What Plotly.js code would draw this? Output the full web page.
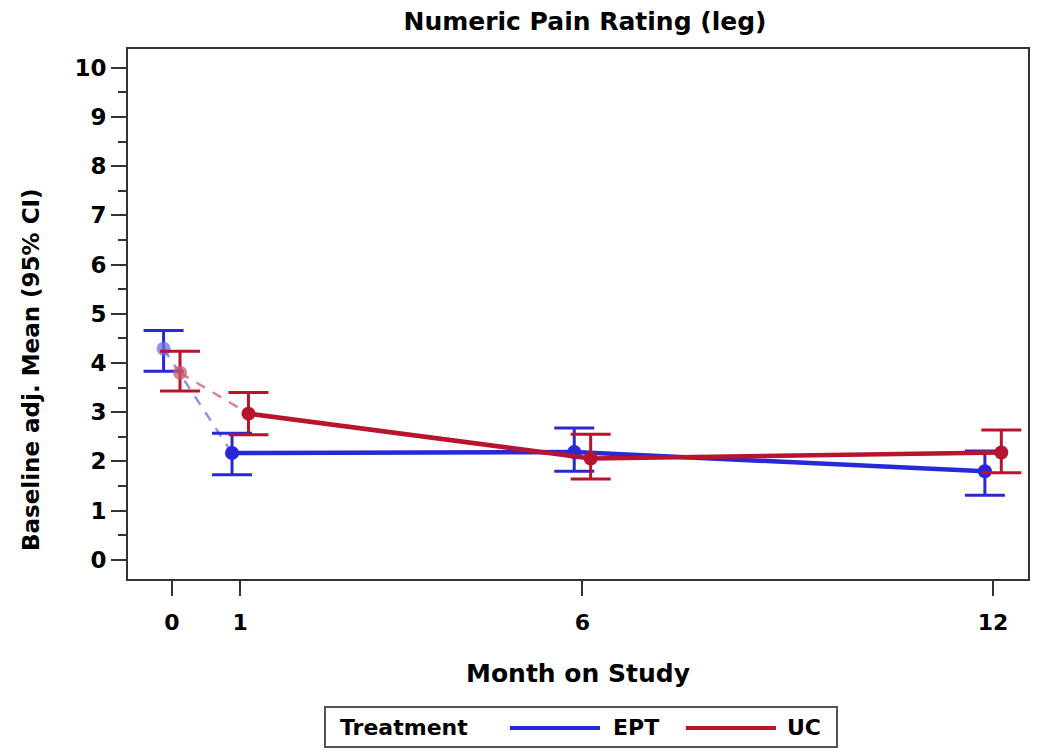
<!DOCTYPE html>
<html>
<head>
<meta charset="utf-8">
<script src="https://cdn.plot.ly/plotly-3.0.1.min.js"></script>
<style>
  html, body { margin: 0; padding: 0; background: #ffffff; }
  #chart { width: 1050px; height: 756px; }
</style>
</head>
<body>
<div id="chart"></div>
<script>
// ---- Data ----
const months = [0, 1, 6, 12];
const monthTickLabels = ['0', '1', '6', '12'];

const eptMean = [4.29, 2.17, 2.19, 1.80];
const eptLower = [3.83, 1.73, 1.80, 1.31];
const eptUpper = [4.66, 2.57, 2.68, 2.21];

const ucMean = [3.80, 2.97, 2.06, 2.18];
const ucLower = [3.43, 2.54, 1.64, 1.77];
const ucUpper = [4.24, 3.40, 2.55, 2.64];

const seriesNames = ['EPT', 'UC'];
const legendTitle = 'Treatment';
const chartTitle = 'Numeric Pain Rating (leg)';
const xTitle = 'Month on Study';
const yTitle = 'Baseline adj. Mean (95% CI)';

// ---- Style ----
const BLUE = 'rgb(40,40,215)';
const BLUE_FADED = 'rgba(110,110,230,0.75)';
const RED = 'rgb(185,20,45)';
const RED_FADED = 'rgba(200,90,110,0.75)';
const FONT = 'DejaVu Sans, Liberation Sans, Arial, sans-serif';
const DODGE = 0.12;

function shift(arr, d) { return arr.map(v => v + d); }

function seriesTraces(name, mean, lo, hi, d, color, faded) {
  const x = shift(months, d);
  const errPlus = hi.map((v, i) => v - mean[i]);
  const errMinus = mean.map((v, i) => v - lo[i]);
  return [
    {
      type: 'scatter', mode: 'lines', x: x.slice(0, 2), y: mean.slice(0, 2),
      line: { color: faded, width: 2.5, dash: '10px,9px' },
      showlegend: false, hoverinfo: 'skip'
    },
    {
      type: 'scatter', mode: 'markers', x: x.slice(0, 1), y: mean.slice(0, 1),
      marker: { color: faded, size: 14 },
      error_y: { type: 'data', symmetric: false, array: errPlus.slice(0, 1), arrayminus: errMinus.slice(0, 1),
                 color: color, thickness: 3, width: 20 },
      showlegend: false
    },
    {
      type: 'scatter', mode: 'lines+markers', name: name,
      x: x.slice(1), y: mean.slice(1),
      line: { color: color, width: 4.5 },
      marker: { color: color, size: 14 },
      error_y: { type: 'data', symmetric: false, array: errPlus.slice(1), arrayminus: errMinus.slice(1),
                 color: color, thickness: 3, width: 20 },
      showlegend: false
    }
  ];
}

const traces = [
  ...seriesTraces(seriesNames[0], eptMean, eptLower, eptUpper, -DODGE, BLUE, BLUE_FADED),
  ...seriesTraces(seriesNames[1], ucMean, ucLower, ucUpper, DODGE, RED, RED_FADED)
];

// ---- Legend box and y title drawn in paper coordinates (plot area: 128..1028 x, 49..579 y) ----
const L = 128, R = 1028, T = 49, B = 579;
const px = v => (v - L) / (R - L);
const py = v => (B - v) / (B - T);
const legFont = { family: FONT, size: 22, weight: 'bold', color: '#000' };

const shapes = [
  { type: 'rect', xref: 'paper', yref: 'paper', x0: px(325), x1: px(837), y0: py(747), y1: py(707),
    line: { color: '#555', width: 2 }, fillcolor: 'rgba(0,0,0,0)' },
  { type: 'line', xref: 'paper', yref: 'paper', x0: px(510), x1: px(600), y0: py(728), y1: py(728),
    line: { color: BLUE, width: 4 } },
  { type: 'line', xref: 'paper', yref: 'paper', x0: px(686), x1: px(776), y0: py(728), y1: py(728),
    line: { color: RED, width: 4 } }
];
const annotations = [
  { xref: 'paper', yref: 'paper', x: px(338), y: py(727), xanchor: 'left', yanchor: 'middle',
    text: legendTitle, showarrow: false, font: legFont },
  { xref: 'paper', yref: 'paper', x: px(611), y: py(727), xanchor: 'left', yanchor: 'middle',
    text: seriesNames[0], showarrow: false, font: legFont },
  { xref: 'paper', yref: 'paper', x: px(785), y: py(727), xanchor: 'left', yanchor: 'middle',
    text: seriesNames[1], showarrow: false, font: legFont },
  { xref: 'paper', yref: 'paper', x: px(31), y: py(370), xanchor: 'center', yanchor: 'middle',
    text: yTitle, textangle: -90, showarrow: false,
    font: { family: FONT, size: 23, weight: 'bold', color: '#000' } }
];

const layout = {
  width: 1050, height: 756,
  margin: { l: L, r: 1050 - R, t: T, b: 756 - B },
  paper_bgcolor: '#ffffff', plot_bgcolor: '#ffffff',
  font: { family: FONT, color: '#000000' },
  showlegend: false,
  title: {
    text: chartTitle,
    font: { family: FONT, size: 25, weight: 'bold', color: '#000' },
    x: px(585), xref: 'paper', xanchor: 'center', y: 1 - 21 / 756, yref: 'container', yanchor: 'middle'
  },
  xaxis: {
    range: [-0.64, 12.51],
    tickvals: months, ticktext: monthTickLabels,
    ticks: 'outside', ticklen: 15, tickwidth: 2, tickcolor: '#333',
    ticklabelstandoff: 8,
    tickfont: { family: FONT, size: 22, weight: 'bold', color: '#000' },
    showline: true, linecolor: '#333', linewidth: 2, mirror: true,
    showgrid: false, zeroline: false,
    title: { text: xTitle, font: { family: FONT, size: 25, weight: 'bold', color: '#000' }, standoff: 30 }
  },
  yaxis: {
    range: [-0.39, 10.38],
    tickvals: [0,1,2,3,4,5,6,7,8,9,10],
    ticks: 'outside', ticklen: 15, tickwidth: 2, tickcolor: '#333',
    minor: { tickvals: [0.5,1.5,2.5,3.5,4.5,5.5,6.5,7.5,8.5,9.5], ticks: 'outside', ticklen: 8, tickwidth: 2, tickcolor: '#333', showgrid: false },
    tickfont: { family: FONT, size: 23, weight: 'bold', color: '#000' },
    showline: true, linecolor: '#333', linewidth: 2, mirror: true,
    showgrid: false, zeroline: false
  },
  shapes: shapes,
  annotations: annotations
};

Plotly.newPlot('chart', traces, layout, { staticPlot: true, displayModeBar: false });
</script>
</body>
</html>
